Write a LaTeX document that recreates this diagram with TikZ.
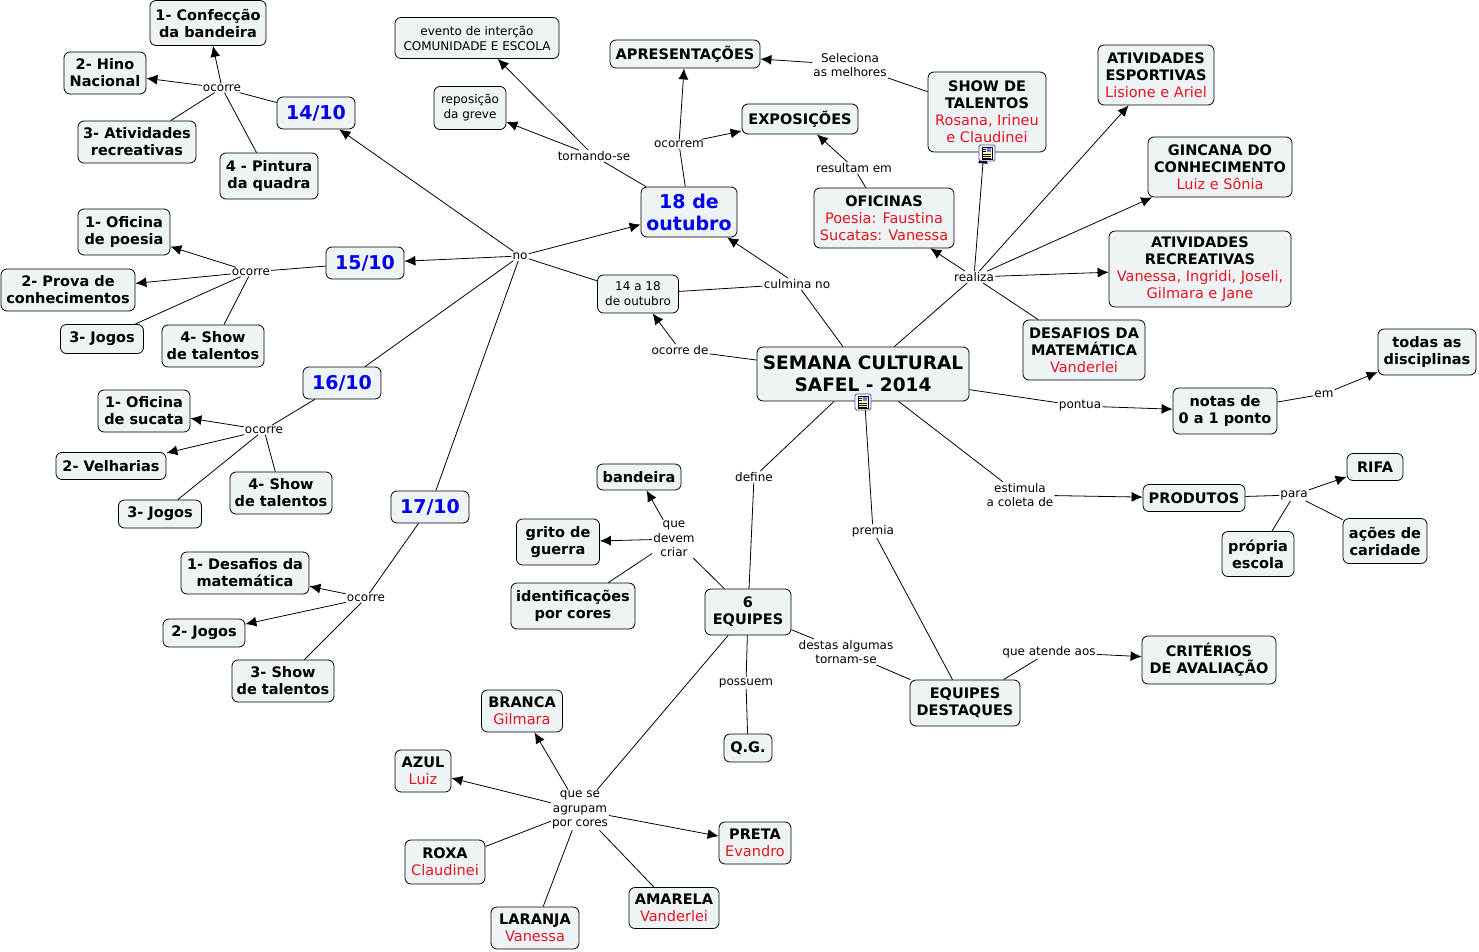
\documentclass[tikz,border=0pt]{standalone}
\usepackage{fontspec}
\setmainfont{DejaVu Sans}
\usetikzlibrary{arrows.meta}
\definecolor{boxfill}{RGB}{238,243,245}
\definecolor{nomered}{RGB}{232,20,32}
\definecolor{diablue}{RGB}{0,0,240}
\newcommand{\nome}[1]{\textcolor{nomered}{\mdseries\fontsize{14.5}{17}\selectfont #1}}
\tikzset{
  base/.style={draw=black,line width=.8pt,rounded corners=6pt,fill=boxfill,align=center,inner sep=0pt},
  boxsize/.style 2 args={minimum width=#1pt,minimum height=#2pt},
  concept/.style={base,font=\fontsize{14.5}{17}\selectfont\bfseries},
  plainc/.style={base,font=\fontsize{12}{15}\selectfont},
  dia/.style={base,text=diablue,font=\fontsize{19}{22}\selectfont\bfseries},
  mainc/.style={base,font=\fontsize{18.5}{22}\selectfont\bfseries},
  ligacao/.style={align=center,inner sep=1pt,font=\fontsize{12}{14.5}\selectfont},
  linha/.style={draw=black,line width=.8pt},
  seta/.style={linha,-{Latex[length=11pt,width=10pt]}},
  noteicon/.pic={
    \draw[draw=blue!60!black!70,fill=white,line width=.9pt,rounded corners=1.5pt] (-8,-8) rectangle (8,8);
    \draw[draw=black,fill=yellow!25,line width=.6pt] (-5,-6) rectangle (5,6);
    \fill[blue!55] (0,-5) rectangle (4,-1);
    \foreach \y in {1,3,5}{\draw[line width=.5pt] (-4,\y) -- (4,\y);}
    \foreach \y in {-4,-2}{\draw[line width=.5pt] (-4,\y) -- (-1,\y);}
  }
}
\begin{document}
\begin{tikzpicture}[x=1pt,y=-1pt]
  \useasboundingbox (0,0) rectangle (1479,952);
  \node[mainc,boxsize={212}{54}] (semana) at (863,374) {SEMANA CULTURAL\\SAFEL - 2014};
  \node[dia,boxsize={78}{32}] (d14) at (316,113) {14/10};
  \node[dia,boxsize={78}{32}] (d15) at (365,263) {15/10};
  \node[dia,boxsize={78}{32}] (d16) at (342,383) {16/10};
  \node[dia,boxsize={78}{32}] (d17) at (430,507) {17/10};
  \node[dia,boxsize={96}{50}] (d18) at (689,212) {18 de\\outubro};
  \node[concept,boxsize={116}{45}] (a1) at (208,23) {1- Confecção\\da bandeira};
  \node[concept,boxsize={82}{42}] (a2) at (105,73) {2- Hino\\Nacional};
  \node[concept,boxsize={118}{42}] (a3) at (137,142) {3- Atividades\\recreativas};
  \node[concept,boxsize={98}{46}] (a4) at (269,176) {4 - Pintura\\da quadra};
  \node[concept,boxsize={92}{46}] (b1) at (124,232) {1- Oficina\\de poesia};
  \node[concept,boxsize={134}{42}] (b2) at (68,290) {2- Prova de\\conhecimentos};
  \node[concept,boxsize={83}{29}] (b3) at (102,339) {3- Jogos};
  \node[concept,boxsize={102}{42}] (b4) at (213,346) {4- Show\\de talentos};
  \node[concept,boxsize={92}{42}] (e1) at (144,411) {1- Oficina\\de sucata};
  \node[concept,boxsize={110}{27}] (e2) at (111,466) {2- Velharias};
  \node[concept,boxsize={83}{28}] (e3) at (160,514) {3- Jogos};
  \node[concept,boxsize={102}{42}] (e4) at (281,493) {4- Show\\de talentos};
  \node[concept,boxsize={128}{42}] (f1) at (245,573) {1- Desafios da\\matemática};
  \node[concept,boxsize={82}{28}] (f2) at (204,633) {2- Jogos};
  \node[concept,boxsize={102}{42}] (f3) at (283,681) {3- Show\\de talentos};
  \node[plainc,boxsize={164}{41}] (evento) at (477,38) {evento de interção\\COMUNIDADE E ESCOLA};
  \node[plainc,boxsize={72}{43}] (greve) at (470,108) {reposição\\da greve};
  \node[plainc,boxsize={81}{38}] (periodo) at (638,294) {14 a 18\\de outubro};
  \node[concept,boxsize={150}{28}] (apres) at (685,54) {APRESENTAÇÕES};
  \node[concept,boxsize={116}{30}] (expo) at (800,119) {EXPOSIÇÕES};
  \node[concept,boxsize={118}{80}] (show) at (987,112) {SHOW DE\\TALENTOS\\\nome{Rosana, Irineu}\\\nome{e Claudinei}};
  \node[concept,boxsize={116}{60}] (esport) at (1156,75) {ATIVIDADES\\ESPORTIVAS\\\nome{Lisione e Ariel}};
  \node[concept,boxsize={144}{60}] (gincana) at (1220,167) {GINCANA DO\\CONHECIMENTO\\\nome{Luiz e Sônia}};
  \node[concept,boxsize={182}{76}] (recre) at (1200,269) {ATIVIDADES\\RECREATIVAS\\\nome{Vanessa, Ingridi, Joseli,}\\\nome{Gilmara e Jane}};
  \node[concept,boxsize={122}{60}] (desafios) at (1084,350) {DESAFIOS DA\\MATEMÁTICA\\\nome{Vanderlei}};
  \node[concept,boxsize={140}{60}] (oficinas) at (884,218) {OFICINAS\\\nome{Poesia: Faustina}\\\nome{Sucatas: Vanessa}};
  \node[concept,boxsize={104}{46}] (notas) at (1225,411) {notas de\\0 a 1 ponto};
  \node[concept,boxsize={98}{46}] (todas) at (1427,352) {todas as\\disciplinas};
  \node[concept,boxsize={102}{27}] (produtos) at (1194,498) {PRODUTOS};
  \node[concept,boxsize={56}{27}] (rifa) at (1375,467) {RIFA};
  \node[concept,boxsize={84}{45}] (acoes) at (1385,541) {ações de\\caridade};
  \node[concept,boxsize={72}{45}] (propria) at (1258,554) {própria\\escola};
  \node[concept,boxsize={84}{26}] (bandeira) at (639,477) {bandeira};
  \node[concept,boxsize={83}{46}] (grito) at (558,542) {grito de\\guerra};
  \node[concept,boxsize={124}{46}] (ident) at (573,606) {identificações\\por cores};
  \node[concept,boxsize={86}{46}] (equipes) at (748,612) {6\\EQUIPES};
  \node[concept,boxsize={110}{46}] (destaques) at (965,703) {EQUIPES\\DESTAQUES};
  \node[concept,boxsize={134}{48}] (criterios) at (1209,660) {CRITÉRIOS\\DE AVALIAÇÃO};
  \node[concept,boxsize={48}{28}] (qg) at (748,748) {Q.G.};
  \node[concept,boxsize={81}{42}] (branca) at (522,711) {BRANCA\\\nome{Gilmara}};
  \node[concept,boxsize={56}{42}] (azul) at (423,771) {AZUL\\\nome{Luiz}};
  \node[concept,boxsize={72}{42}] (preta) at (755,843) {PRETA\\\nome{Evandro}};
  \node[concept,boxsize={80}{44}] (roxa) at (445,862) {ROXA\\\nome{Claudinei}};
  \node[concept,boxsize={90}{41}] (amarela) at (674,908) {AMARELA\\\nome{Vanderlei}};
  \node[concept,boxsize={88}{42}] (laranja) at (535,928) {LARANJA\\\nome{Vanessa}};
  \node[ligacao] (oc14) at (222,88) {ocorre};
  \node[ligacao] (oc15) at (251,272) {ocorre};
  \node[ligacao] (oc16) at (264,430) {ocorre};
  \node[ligacao] (oc17) at (366,598) {ocorre};
  \node[ligacao] (no) at (520,256) {no};
  \node[ligacao] (tornando) at (594,156) {tornando-se};
  \node[ligacao] (ocorrem) at (679,144) {ocorrem};
  \node[ligacao] (seleciona) at (850,65) {Seleciona\\as melhores};
  \node[ligacao] (resultam) at (854,168) {resultam em};
  \node[ligacao] (realiza) at (974,277) {realiza};
  \node[ligacao] (culmina) at (797,284) {culmina no};
  \node[ligacao] (ocorrede) at (680,350) {ocorre de};
  \node[ligacao] (pontua) at (1080,406) {pontua};
  \node[ligacao] (em) at (1324,394) {em};
  \node[ligacao] (estimula) at (1020,495) {estimula\\a coleta de};
  \node[ligacao] (para) at (1294,495) {para};
  \node[ligacao] (define) at (754,477) {define};
  \node[ligacao] (premia) at (873,531) {premia};
  \node[ligacao] (devem) at (674,539) {que\\devem\\criar};
  \node[ligacao] (destas) at (846,652) {destas algumas\\tornam-se};
  \node[ligacao] (atende) at (1049,652) {que atende aos};
  \node[ligacao] (possuem) at (746,683) {possuem};
  \node[ligacao] (agrupam) at (580,810) {que se\\agrupam\\por cores};
  \foreach \a/\b in {d14/oc14,oc14/a3,oc14/a4,d15/oc15,oc15/b3,oc15/b4,d16/oc16,oc16/e3,oc16/e4,
      d17/oc17,oc17/f3,periodo/no,d16/no,d17/no,d18/tornando,d18/ocorrem,show/seleciona,
      oficinas/resultam,semana/realiza,realiza/desafios,semana/culmina,periodo/culmina,
      semana/ocorrede,semana/pontua,notas/em,semana/estimula,produtos/para,para/propria,para/acoes,
      semana/define,define/equipes,semana/premia,premia/destaques,equipes/devem,devem/ident,
      equipes/destas,destas/destaques,destaques/atende,equipes/possuem,possuem/qg,equipes/agrupam,
      agrupam/roxa,agrupam/laranja,agrupam/amarela}
    \draw[linha] (\a) -- (\b);
  \foreach \a/\b in {oc14/a1,oc14/a2,oc15/b1,oc15/b2,oc16/e1,oc16/e2,oc17/f1,oc17/f2,no/d14,no/d15,no/d18,
      tornando/evento,tornando/greve,ocorrem/apres,ocorrem/expo,seleciona/apres,resultam/expo,
      realiza/oficinas,realiza/show,realiza/esport,realiza/gincana,realiza/recre,culmina/d18,
      ocorrede/periodo,pontua/notas,em/todas,estimula/produtos,para/rifa,devem/bandeira,devem/grito,
      atende/criterios,agrupam/branca,agrupam/azul,agrupam/preta}
    \draw[seta] (\a) -- (\b);
  \pic at (863,402) {noteicon};
  \pic at (987,153) {noteicon};
\end{tikzpicture}
\end{document}
